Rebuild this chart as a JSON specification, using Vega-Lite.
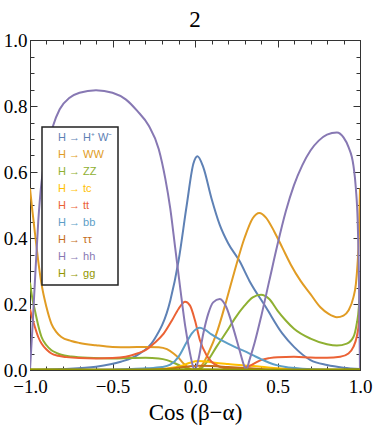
{
  "$schema": "https://vega.github.io/schema/vega-lite/v6.json",
  "autosize": {"type": "none"},
  "width": 330,
  "height": 330,
  "padding": {"left": 30, "top": 40, "right": 14, "bottom": 58},
  "title": {"text": "2", "anchor": "middle", "frame": "group", "baseline": "alphabetic", "offset": -19},
  "config": {
    "font": "Liberation Serif",
    "title": {"font": "Liberation Serif", "fontSize": 23, "fontWeight": "normal", "color": "black"},
    "view": {"stroke": "#333", "strokeWidth": 1},
    "axis": {"domainColor": "#333", "tickColor": "#333", "labelColor": "black", "labelFont": "Liberation Serif", "titleFont": "Liberation Serif", "titleFontWeight": "normal", "titleColor": "black", "grid": false, "labelOverlap": false, "labelFlush": false}
  },
  "data": {"values": [
    {"s":"H → H⁺ W⁻","x":-1,"y":0},{"s":"H → H⁺ W⁻","x":-0.8,"y":0.003},{"s":"H → H⁺ W⁻","x":-0.6,"y":0.01},{"s":"H → H⁺ W⁻","x":-0.45,"y":0.025},{"s":"H → H⁺ W⁻","x":-0.35,"y":0.045},{"s":"H → H⁺ W⁻","x":-0.25,"y":0.09},{"s":"H → H⁺ W⁻","x":-0.15,"y":0.21},{"s":"H → H⁺ W⁻","x":-0.1,"y":0.33},{"s":"H → H⁺ W⁻","x":-0.05,"y":0.5},{"s":"H → H⁺ W⁻","x":-0.01,"y":0.625},{"s":"H → H⁺ W⁻","x":0.015,"y":0.648},{"s":"H → H⁺ W⁻","x":0.05,"y":0.615},{"s":"H → H⁺ W⁻","x":0.1,"y":0.52},{"s":"H → H⁺ W⁻","x":0.15,"y":0.44},{"s":"H → H⁺ W⁻","x":0.2,"y":0.385},{"s":"H → H⁺ W⁻","x":0.27,"y":0.33},{"s":"H → H⁺ W⁻","x":0.33,"y":0.27},{"s":"H → H⁺ W⁻","x":0.43,"y":0.19},{"s":"H → H⁺ W⁻","x":0.53,"y":0.11},{"s":"H → H⁺ W⁻","x":0.6,"y":0.07},{"s":"H → H⁺ W⁻","x":0.7,"y":0.03},{"s":"H → H⁺ W⁻","x":0.8,"y":0.015},{"s":"H → H⁺ W⁻","x":0.9,"y":0.007},{"s":"H → H⁺ W⁻","x":1,"y":0.003},
    {"s":"H → WW","x":-1,"y":0.55},{"s":"H → WW","x":-0.985,"y":0.48},{"s":"H → WW","x":-0.97,"y":0.415},{"s":"H → WW","x":-0.95,"y":0.33},{"s":"H → WW","x":-0.93,"y":0.26},{"s":"H → WW","x":-0.9,"y":0.19},{"s":"H → WW","x":-0.87,"y":0.14},{"s":"H → WW","x":-0.84,"y":0.115},{"s":"H → WW","x":-0.81,"y":0.1},{"s":"H → WW","x":-0.75,"y":0.088},{"s":"H → WW","x":-0.7,"y":0.082},{"s":"H → WW","x":-0.6,"y":0.075},{"s":"H → WW","x":-0.5,"y":0.07},{"s":"H → WW","x":-0.4,"y":0.069},{"s":"H → WW","x":-0.3,"y":0.07},{"s":"H → WW","x":-0.22,"y":0.069},{"s":"H → WW","x":-0.17,"y":0.063},{"s":"H → WW","x":-0.13,"y":0.05},{"s":"H → WW","x":-0.1,"y":0.037},{"s":"H → WW","x":-0.07,"y":0.02},{"s":"H → WW","x":-0.04,"y":0.007},{"s":"H → WW","x":-0.01,"y":0},{"s":"H → WW","x":0.02,"y":0.003},{"s":"H → WW","x":0.05,"y":0.02},{"s":"H → WW","x":0.08,"y":0.05},{"s":"H → WW","x":0.13,"y":0.11},{"s":"H → WW","x":0.19,"y":0.21},{"s":"H → WW","x":0.24,"y":0.3},{"s":"H → WW","x":0.3,"y":0.4},{"s":"H → WW","x":0.35,"y":0.46},{"s":"H → WW","x":0.39,"y":0.476},{"s":"H → WW","x":0.43,"y":0.462},{"s":"H → WW","x":0.48,"y":0.42},{"s":"H → WW","x":0.53,"y":0.37},{"s":"H → WW","x":0.58,"y":0.32},{"s":"H → WW","x":0.64,"y":0.27},{"s":"H → WW","x":0.7,"y":0.23},{"s":"H → WW","x":0.76,"y":0.19},{"s":"H → WW","x":0.81,"y":0.17},{"s":"H → WW","x":0.86,"y":0.16},{"s":"H → WW","x":0.9,"y":0.165},{"s":"H → WW","x":0.93,"y":0.18},{"s":"H → WW","x":0.96,"y":0.22},{"s":"H → WW","x":0.975,"y":0.26},{"s":"H → WW","x":0.985,"y":0.32},{"s":"H → WW","x":0.993,"y":0.4},{"s":"H → WW","x":1,"y":0.55},
    {"s":"H → ZZ","x":-1,"y":0.265},{"s":"H → ZZ","x":-0.985,"y":0.215},{"s":"H → ZZ","x":-0.97,"y":0.18},{"s":"H → ZZ","x":-0.95,"y":0.135},{"s":"H → ZZ","x":-0.93,"y":0.1},{"s":"H → ZZ","x":-0.9,"y":0.075},{"s":"H → ZZ","x":-0.87,"y":0.06},{"s":"H → ZZ","x":-0.84,"y":0.052},{"s":"H → ZZ","x":-0.81,"y":0.046},{"s":"H → ZZ","x":-0.75,"y":0.041},{"s":"H → ZZ","x":-0.65,"y":0.037},{"s":"H → ZZ","x":-0.5,"y":0.035},{"s":"H → ZZ","x":-0.4,"y":0.036},{"s":"H → ZZ","x":-0.3,"y":0.037},{"s":"H → ZZ","x":-0.22,"y":0.035},{"s":"H → ZZ","x":-0.17,"y":0.03},{"s":"H → ZZ","x":-0.13,"y":0.022},{"s":"H → ZZ","x":-0.09,"y":0.013},{"s":"H → ZZ","x":-0.05,"y":0.005},{"s":"H → ZZ","x":-0.01,"y":0},{"s":"H → ZZ","x":0.03,"y":0.003},{"s":"H → ZZ","x":0.08,"y":0.03},{"s":"H → ZZ","x":0.13,"y":0.07},{"s":"H → ZZ","x":0.19,"y":0.115},{"s":"H → ZZ","x":0.24,"y":0.155},{"s":"H → ZZ","x":0.3,"y":0.195},{"s":"H → ZZ","x":0.35,"y":0.22},{"s":"H → ZZ","x":0.4,"y":0.228},{"s":"H → ZZ","x":0.45,"y":0.215},{"s":"H → ZZ","x":0.5,"y":0.18},{"s":"H → ZZ","x":0.55,"y":0.15},{"s":"H → ZZ","x":0.6,"y":0.125},{"s":"H → ZZ","x":0.7,"y":0.095},{"s":"H → ZZ","x":0.8,"y":0.078},{"s":"H → ZZ","x":0.86,"y":0.074},{"s":"H → ZZ","x":0.92,"y":0.08},{"s":"H → ZZ","x":0.96,"y":0.1},{"s":"H → ZZ","x":0.98,"y":0.14},{"s":"H → ZZ","x":0.993,"y":0.19},{"s":"H → ZZ","x":1,"y":0.265},
    {"s":"H → tc","x":-1,"y":0},{"s":"H → tc","x":-0.4,"y":0.0005},{"s":"H → tc","x":-0.25,"y":0.002},{"s":"H → tc","x":-0.15,"y":0.006},{"s":"H → tc","x":-0.08,"y":0.013},{"s":"H → tc","x":-0.03,"y":0.022},{"s":"H → tc","x":0.02,"y":0.027},{"s":"H → tc","x":0.07,"y":0.026},{"s":"H → tc","x":0.12,"y":0.022},{"s":"H → tc","x":0.2,"y":0.018},{"s":"H → tc","x":0.3,"y":0.014},{"s":"H → tc","x":0.4,"y":0.01},{"s":"H → tc","x":0.5,"y":0.005},{"s":"H → tc","x":0.6,"y":0.002},{"s":"H → tc","x":0.75,"y":0.0005},{"s":"H → tc","x":1,"y":0},
    {"s":"H → tt","x":-1,"y":0.185},{"s":"H → tt","x":-0.985,"y":0.155},{"s":"H → tt","x":-0.97,"y":0.13},{"s":"H → tt","x":-0.95,"y":0.1},{"s":"H → tt","x":-0.93,"y":0.08},{"s":"H → tt","x":-0.9,"y":0.062},{"s":"H → tt","x":-0.87,"y":0.05},{"s":"H → tt","x":-0.83,"y":0.043},{"s":"H → tt","x":-0.78,"y":0.039},{"s":"H → tt","x":-0.7,"y":0.036},{"s":"H → tt","x":-0.6,"y":0.035},{"s":"H → tt","x":-0.5,"y":0.036},{"s":"H → tt","x":-0.42,"y":0.04},{"s":"H → tt","x":-0.35,"y":0.05},{"s":"H → tt","x":-0.3,"y":0.06},{"s":"H → tt","x":-0.25,"y":0.08},{"s":"H → tt","x":-0.19,"y":0.11},{"s":"H → tt","x":-0.14,"y":0.15},{"s":"H → tt","x":-0.1,"y":0.185},{"s":"H → tt","x":-0.06,"y":0.207},{"s":"H → tt","x":-0.03,"y":0.195},{"s":"H → tt","x":0,"y":0.15},{"s":"H → tt","x":0.03,"y":0.09},{"s":"H → tt","x":0.07,"y":0.045},{"s":"H → tt","x":0.1,"y":0.025},{"s":"H → tt","x":0.15,"y":0.01},{"s":"H → tt","x":0.2,"y":0.005},{"s":"H → tt","x":0.27,"y":0.005},{"s":"H → tt","x":0.32,"y":0.01},{"s":"H → tt","x":0.36,"y":0.02},{"s":"H → tt","x":0.4,"y":0.03},{"s":"H → tt","x":0.45,"y":0.036},{"s":"H → tt","x":0.5,"y":0.039},{"s":"H → tt","x":0.6,"y":0.04},{"s":"H → tt","x":0.7,"y":0.038},{"s":"H → tt","x":0.8,"y":0.037},{"s":"H → tt","x":0.88,"y":0.04},{"s":"H → tt","x":0.93,"y":0.05},{"s":"H → tt","x":0.96,"y":0.07},{"s":"H → tt","x":0.98,"y":0.1},{"s":"H → tt","x":0.993,"y":0.14},{"s":"H → tt","x":1,"y":0.185},
    {"s":"H → bb","x":-1,"y":0},{"s":"H → bb","x":-0.6,"y":0.001},{"s":"H → bb","x":-0.4,"y":0.003},{"s":"H → bb","x":-0.3,"y":0.005},{"s":"H → bb","x":-0.2,"y":0.009},{"s":"H → bb","x":-0.15,"y":0.016},{"s":"H → bb","x":-0.1,"y":0.04},{"s":"H → bb","x":-0.05,"y":0.085},{"s":"H → bb","x":-0.02,"y":0.11},{"s":"H → bb","x":0.01,"y":0.125},{"s":"H → bb","x":0.03,"y":0.128},{"s":"H → bb","x":0.06,"y":0.122},{"s":"H → bb","x":0.1,"y":0.108},{"s":"H → bb","x":0.15,"y":0.093},{"s":"H → bb","x":0.2,"y":0.08},{"s":"H → bb","x":0.25,"y":0.068},{"s":"H → bb","x":0.3,"y":0.057},{"s":"H → bb","x":0.35,"y":0.045},{"s":"H → bb","x":0.4,"y":0.033},{"s":"H → bb","x":0.45,"y":0.022},{"s":"H → bb","x":0.5,"y":0.014},{"s":"H → bb","x":0.55,"y":0.009},{"s":"H → bb","x":0.65,"y":0.004},{"s":"H → bb","x":0.8,"y":0.001},{"s":"H → bb","x":1,"y":0},
    {"s":"H → ττ","x":-1,"y":0},{"s":"H → ττ","x":-0.3,"y":0.001},{"s":"H → ττ","x":-0.15,"y":0.004},{"s":"H → ττ","x":-0.05,"y":0.01},{"s":"H → ττ","x":0.02,"y":0.013},{"s":"H → ττ","x":0.1,"y":0.012},{"s":"H → ττ","x":0.2,"y":0.009},{"s":"H → ττ","x":0.3,"y":0.006},{"s":"H → ττ","x":0.4,"y":0.003},{"s":"H → ττ","x":0.5,"y":0.001},{"s":"H → ττ","x":1,"y":0},
    {"s":"H → hh","x":-1,"y":0},{"s":"H → hh","x":-0.985,"y":0.13},{"s":"H → hh","x":-0.97,"y":0.27},{"s":"H → hh","x":-0.95,"y":0.45},{"s":"H → hh","x":-0.93,"y":0.57},{"s":"H → hh","x":-0.9,"y":0.66},{"s":"H → hh","x":-0.86,"y":0.74},{"s":"H → hh","x":-0.82,"y":0.79},{"s":"H → hh","x":-0.76,"y":0.825},{"s":"H → hh","x":-0.7,"y":0.84},{"s":"H → hh","x":-0.6,"y":0.848},{"s":"H → hh","x":-0.5,"y":0.84},{"s":"H → hh","x":-0.42,"y":0.82},{"s":"H → hh","x":-0.35,"y":0.785},{"s":"H → hh","x":-0.28,"y":0.74},{"s":"H → hh","x":-0.22,"y":0.67},{"s":"H → hh","x":-0.18,"y":0.58},{"s":"H → hh","x":-0.15,"y":0.49},{"s":"H → hh","x":-0.12,"y":0.37},{"s":"H → hh","x":-0.09,"y":0.25},{"s":"H → hh","x":-0.06,"y":0.135},{"s":"H → hh","x":-0.03,"y":0.05},{"s":"H → hh","x":-0.01,"y":0.008},{"s":"H → hh","x":0,"y":0},{"s":"H → hh","x":0.02,"y":0.03},{"s":"H → hh","x":0.05,"y":0.11},{"s":"H → hh","x":0.08,"y":0.17},{"s":"H → hh","x":0.11,"y":0.205},{"s":"H → hh","x":0.15,"y":0.215},{"s":"H → hh","x":0.19,"y":0.19},{"s":"H → hh","x":0.23,"y":0.13},{"s":"H → hh","x":0.27,"y":0.06},{"s":"H → hh","x":0.3,"y":0.01},{"s":"H → hh","x":0.31,"y":0},{"s":"H → hh","x":0.33,"y":0.03},{"s":"H → hh","x":0.36,"y":0.08},{"s":"H → hh","x":0.4,"y":0.16},{"s":"H → hh","x":0.45,"y":0.27},{"s":"H → hh","x":0.5,"y":0.38},{"s":"H → hh","x":0.55,"y":0.48},{"s":"H → hh","x":0.6,"y":0.56},{"s":"H → hh","x":0.65,"y":0.62},{"s":"H → hh","x":0.7,"y":0.665},{"s":"H → hh","x":0.75,"y":0.695},{"s":"H → hh","x":0.8,"y":0.713},{"s":"H → hh","x":0.86,"y":0.72},{"s":"H → hh","x":0.9,"y":0.705},{"s":"H → hh","x":0.93,"y":0.676},{"s":"H → hh","x":0.96,"y":0.62},{"s":"H → hh","x":0.975,"y":0.55},{"s":"H → hh","x":0.986,"y":0.45},{"s":"H → hh","x":0.993,"y":0.3},{"s":"H → hh","x":1,"y":0},
    {"s":"H → gg","x":-1,"y":0.002},{"s":"H → gg","x":-0.5,"y":0.001},{"s":"H → gg","x":0,"y":0.002},{"s":"H → gg","x":0.5,"y":0.001},{"s":"H → gg","x":1,"y":0.002}
  ]},
  "layer": [
    {
      "mark": {"type": "line", "interpolate": "monotone", "strokeWidth": 2, "clip": true},
      "encoding": {
        "x": {"field": "x", "type": "quantitative", "scale": {"domain": [-1, 1], "nice": false, "zero": false},
          "axis": {"orient": "bottom", "title": "Cos (β−α)", "titleFontSize": 23, "titlePadding": 2, "labelFontSize": 19,
            "values": [-1,-0.9,-0.8,-0.7,-0.6,-0.5,-0.4,-0.3,-0.2,-0.1,0,0.1,0.2,0.3,0.4,0.5,0.6,0.7,0.8,0.9,1],
            "labelExpr": "abs(datum.value*2-round(datum.value*2))<0.001 ? format(datum.value,'.1f') : ''",
            "tickSize": {"condition": {"test": "abs(datum.value*2-round(datum.value*2))<0.001", "value": -7}, "value": -4},
            "labelPadding": 14}},
        "y": {"field": "y", "type": "quantitative", "scale": {"domain": [0, 1], "nice": false},
          "axis": {"orient": "left", "title": null, "labelFontSize": 19,
            "values": [0,0.05,0.1,0.15,0.2,0.25,0.3,0.35,0.4,0.45,0.5,0.55,0.6,0.65,0.7,0.75,0.8,0.85,0.9,0.95,1],
            "labelExpr": "abs(datum.value*5-round(datum.value*5))<0.001 ? format(datum.value,'.1f') : ''",
            "tickSize": {"condition": {"test": "abs(datum.value*5-round(datum.value*5))<0.001", "value": -7}, "value": -4},
            "labelPadding": 10}},
        "color": {"field": "s", "type": "nominal",
          "scale": {"domain": ["H → H⁺ W⁻","H → WW","H → ZZ","H → tc","H → tt","H → bb","H → ττ","H → hh","H → gg"],
                    "range": ["#5E81B5","#E19C24","#8FB032","#FFBF00","#EB6235","#5D9EC7","#C56E1A","#8778B3","#929600"]},
          "legend": {"orient": "none", "legendX": 12, "legendY": 87, "title": null, "strokeColor": "#222", "fillColor": "white", "padding": 5,
            "symbolSize": 0, "symbolOpacity": 0, "symbolStrokeWidth": 0, "labelOffset": 0,
            "labelFont": "Liberation Sans", "labelFontSize": 11, "rowPadding": 5.1, "labelLimit": 200,
            "encode": {"labels": {"update": {"fill": {"scale": "color", "field": "value"}}}, "legend": {"update": {"strokeWidth": {"value": 1.5}}}}}}
      }
    },
    {
      "mark": {"type": "line", "opacity": 0},
      "encoding": {
        "x": {"field": "x", "type": "quantitative",
          "axis": {"orient": "top", "title": null, "labels": false,
            "values": [-1,-0.9,-0.8,-0.7,-0.6,-0.5,-0.4,-0.3,-0.2,-0.1,0,0.1,0.2,0.3,0.4,0.5,0.6,0.7,0.8,0.9,1],
            "tickSize": {"condition": {"test": "abs(datum.value*2-round(datum.value*2))<0.001", "value": -7}, "value": -4}}},
        "y": {"field": "y", "type": "quantitative",
          "axis": {"orient": "right", "title": null, "labels": false,
            "values": [0,0.05,0.1,0.15,0.2,0.25,0.3,0.35,0.4,0.45,0.5,0.55,0.6,0.65,0.7,0.75,0.8,0.85,0.9,0.95,1],
            "tickSize": {"condition": {"test": "abs(datum.value*5-round(datum.value*5))<0.001", "value": -7}, "value": -4}}},
        "detail": {"field": "s", "type": "nominal"}
      }
    }
  ],
  "resolve": {"axis": {"x": "independent", "y": "independent"}}
}
